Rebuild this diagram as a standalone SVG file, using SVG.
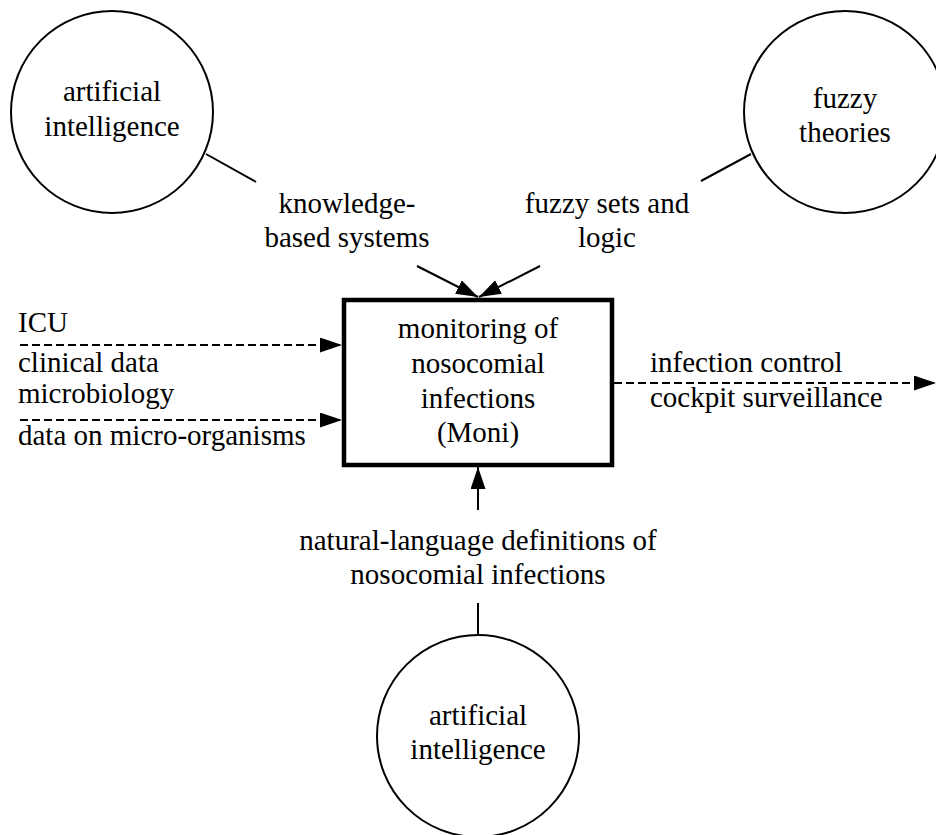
<svg xmlns="http://www.w3.org/2000/svg" width="936" height="835" viewBox="0 0 936 835">
  <style>
    text { font-family: "Liberation Serif", "Times New Roman", serif; font-size: 29px; fill: #000; }
    .c { text-anchor: middle; }
    .circle { fill: #fff; stroke: #000; stroke-width: 2; }
    .solid { stroke: #000; stroke-width: 2; fill: none; }
    .dash { stroke: #000; stroke-width: 2; fill: none; stroke-dasharray: 8 4; }
    .box { fill: #fff; stroke: #000; stroke-width: 4.5; }
  </style>
  <defs>
    <marker id="arrow" markerUnits="userSpaceOnUse" markerWidth="23" markerHeight="16" refX="22" refY="7.5" orient="auto">
      <path d="M0,0 L22,7.5 L0,15 z" fill="#000"/>
    </marker>
  </defs>
  <rect width="936" height="835" fill="#fff"/>

  <g id="connectors">
    <line class="solid" x1="206" y1="154" x2="256" y2="182"/>
    <line class="solid" x1="751" y1="154" x2="701" y2="181"/>
    <line class="solid" x1="478" y1="603" x2="478" y2="635"/>
    <line class="solid" x1="417" y1="266" x2="478" y2="297" marker-end="url(#arrow)"/>
    <line class="solid" x1="540" y1="266" x2="479" y2="297" marker-end="url(#arrow)"/>
    <line class="solid" x1="478" y1="510" x2="478" y2="467" marker-end="url(#arrow)"/>
    <line class="dash" x1="20" y1="345" x2="342" y2="345" marker-end="url(#arrow)"/>
    <line class="dash" x1="20" y1="420" x2="342" y2="420" marker-end="url(#arrow)"/>
    <line class="dash" x1="614" y1="383" x2="936" y2="383" marker-end="url(#arrow)"/>
  </g>

  <g id="ai-top">
    <circle class="circle" cx="112" cy="112" r="101"/>
    <text class="c" x="112" y="101">artificial</text>
    <text class="c" x="112" y="136">intelligence</text>
  </g>

  <g id="fuzzy-theories">
    <circle class="circle" cx="845" cy="112" r="101"/>
    <text class="c" x="845" y="108">fuzzy</text>
    <text class="c" x="845" y="142">theories</text>
  </g>

  <g id="ai-bottom">
    <circle class="circle" cx="478" cy="736" r="101"/>
    <text class="c" x="478" y="725">artificial</text>
    <text class="c" x="478" y="759">intelligence</text>
  </g>

  <g id="moni">
    <rect class="box" x="344" y="300" width="268" height="165"/>
    <text class="c" x="478" y="338">monitoring of</text>
    <text class="c" x="478" y="373">nosocomial</text>
    <text class="c" x="478" y="408">infections</text>
    <text class="c" x="478" y="442">(Moni)</text>
  </g>

  <g id="label-kbs">
    <text class="c" x="347" y="213">knowledge-</text>
    <text class="c" x="347" y="247">based systems</text>
  </g>

  <g id="label-fuzzy">
    <text class="c" x="607" y="213">fuzzy sets and</text>
    <text class="c" x="607" y="247">logic</text>
  </g>

  <g id="label-inputs">
    <text x="18" y="332">ICU</text>
    <text x="18" y="372">clinical data</text>
    <text x="18" y="403">microbiology</text>
    <text x="18" y="445">data on micro-organisms</text>
  </g>

  <g id="label-outputs">
    <text x="650" y="372">infection control</text>
    <text x="650" y="407">cockpit surveillance</text>
  </g>

  <g id="label-nl">
    <text class="c" x="478" y="550">natural-language definitions of</text>
    <text class="c" x="478" y="584">nosocomial infections</text>
  </g>
</svg>
